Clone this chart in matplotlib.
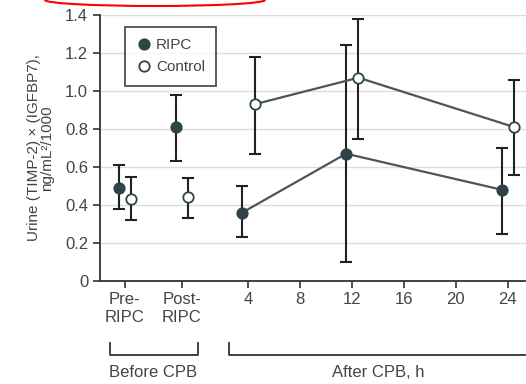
import matplotlib
matplotlib.use("Agg")
import matplotlib.pyplot as plt
from matplotlib.patches import Arc
import matplotlib.transforms as mtransforms

plt.rcParams['font.family'] = ['Liberation Sans', 'DejaVu Sans']

# data
hours = [4, 12, 24]
groups = ["RIPC", "Control"]

ripc_pre = [0.49, 0.38, 0.61]        # mean, low, high
ripc_post = [0.81, 0.63, 0.98]
ripc_mean = [0.36, 0.67, 0.48]
ripc_low = [0.23, 0.10, 0.25]
ripc_high = [0.50, 1.24, 0.70]

ctrl_pre = [0.43, 0.32, 0.55]
ctrl_post = [0.44, 0.33, 0.54]
ctrl_mean = [0.93, 1.07, 0.81]
ctrl_low = [0.67, 0.75, 0.56]
ctrl_high = [1.18, 1.38, 1.06]

xtick_vals = [-5.5, -1.1, 4, 8, 12, 16, 20, 24]
xtick_labels = ["Pre-\nRIPC", "Post-\nRIPC", "4", "8", "12", "16", "20", "24"]
yticks = [0, 0.2, 0.4, 0.6, 0.8, 1.0, 1.2, 1.4]
ytick_labels = ["0", "0.2", "0.4", "0.6", "0.8", "1.0", "1.2", "1.4"]

txt = "#444444"
dark = "#2f4448"

fig = plt.figure(figsize=(5.26, 3.84), dpi=100)
ax = fig.add_axes([100 / 526, 1 - 281 / 384, 1 - 100 / 526, 266 / 384])

offs = {"RIPC": -0.45, "Control": 0.5}

for g, pre, post, mean, low, high in [
    ("RIPC", ripc_pre, ripc_post, ripc_mean, ripc_low, ripc_high),
    ("Control", ctrl_pre, ctrl_post, ctrl_mean, ctrl_low, ctrl_high),
]:
    xs = [xtick_vals[0] + offs[g], xtick_vals[1] + offs[g]] + [h + offs[g] for h in hours]
    ys = [pre[0], post[0]] + mean
    lo = [pre[1], post[1]] + low
    hi = [pre[2], post[2]] + high
    yerr = [[y - l for y, l in zip(ys, lo)], [h - y for y, h in zip(ys, hi)]]
    ax.errorbar(xs, ys, yerr=yerr, fmt="none", ecolor="#222222",
                elinewidth=1.5, capsize=4.5, capthick=1.5, zorder=3)
    ax.plot(xs[2:], ys[2:], color="#4a5659", lw=1.6, zorder=3)
    face = dark if g == "RIPC" else "white"
    ax.plot(xs, ys, ls="none", marker="o", ms=7.5, mfc=face, mec=dark,
            mew=1.3, zorder=4, label=g)

ax.set_ylim(0, 1.4)
ax.set_xlim(-7.4, 25.4)
ax.set_yticks(yticks)
ax.set_yticklabels(ytick_labels)
ax.set_xticks(xtick_vals)
ax.set_xticklabels(xtick_labels)
ax.tick_params(colors="#333333", labelcolor=txt, labelsize=12, length=5, width=1.2)
ax.tick_params(axis="x", pad=3)

ax.yaxis.grid(True, color="#dcdcdc", lw=1)
ax.set_axisbelow(True)
for s in ["top", "right"]:
    ax.spines[s].set_visible(False)
for s in ["left", "bottom"]:
    ax.spines[s].set_color("#333333")
    ax.spines[s].set_linewidth(1.3)

ax.set_ylabel("Urine (TIMP-2) \u00d7 (IGFBP7),\nng/mL\u00b2/1000", color=txt,
              fontsize=11, labelpad=8, linespacing=0.95)

leg = ax.legend(loc="upper left", bbox_to_anchor=(0.04, 0.985), frameon=True,
                fancybox=False, edgecolor="#222222", fontsize=11,
                handletextpad=0.3, borderpad=0.75, labelspacing=0.55,
                handlelength=1.0)
leg.get_frame().set_linewidth(1.3)
for t in leg.get_texts():
    t.set_color(txt)

# brackets under the axis
trans = mtransforms.blended_transform_factory(ax.transData, ax.transAxes)
yb, yt = -0.278, -0.233
ax.plot([-6.6, -6.6, 0.15, 0.15], [yt, yb, yb, yt], color="#333333", lw=1.3,
        transform=trans, clip_on=False)
ax.plot([2.5, 2.5, 26.5], [yt, yb, yb], color="#333333", lw=1.3,
        transform=trans, clip_on=False)
ax.text(-3.3, -0.345, "Before CPB", transform=trans, ha="center", va="center",
        color=txt, fontsize=12)
ax.text(14.0, -0.345, "After CPB, h", transform=trans, ha="center", va="center",
        color=txt, fontsize=12)

# red mark at the top edge
fig.patches.append(Arc((155 / 526, 1.0), 220 / 526, 12 / 384, theta1=180, theta2=360,
                       transform=fig.transFigure, color="red", lw=1.5))

fig.savefig("out.png", dpi=100)
